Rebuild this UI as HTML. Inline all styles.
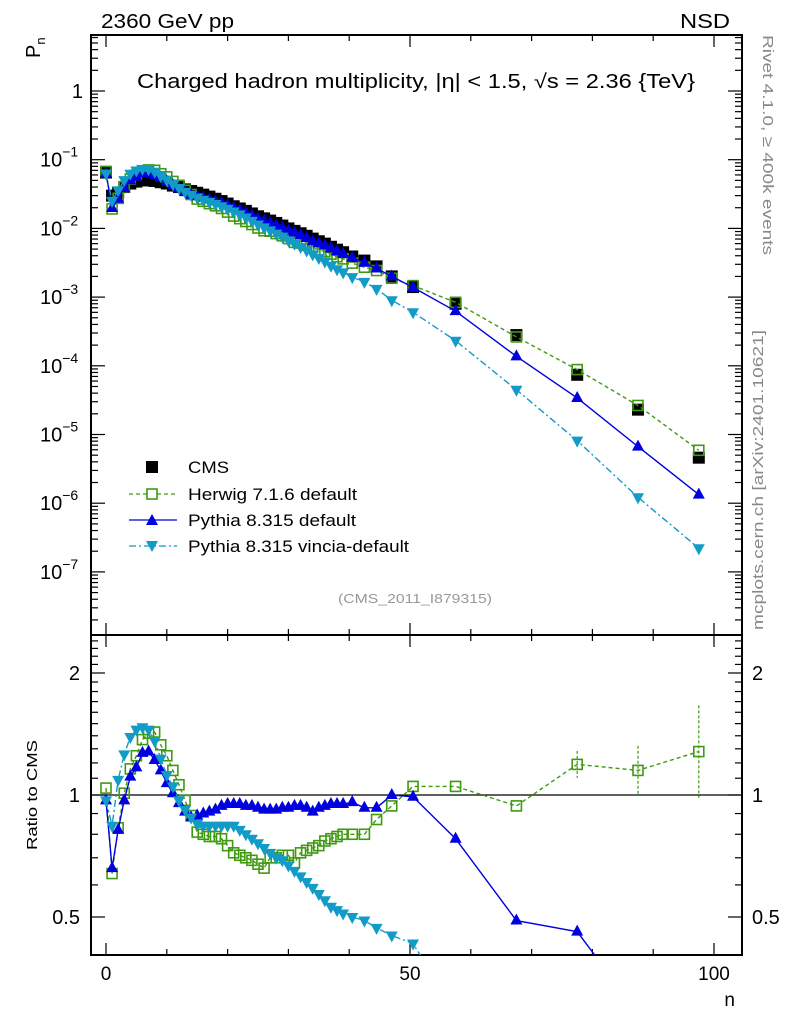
<!DOCTYPE html>
<html><head><meta charset="utf-8"><style>
html,body{margin:0;padding:0;background:#fff;overflow:hidden;width:786px;height:1024px;}
svg{display:block;font-family:"Liberation Sans",sans-serif;}
</style></head><body>
<svg id="chart" width="786" height="1024" viewBox="0 0 786 1024" xmlns="http://www.w3.org/2000/svg">
<rect x="0" y="0" width="786" height="1024" fill="#fff"/>
<text x="101" y="28" font-size="20" textLength="133" lengthAdjust="spacingAndGlyphs">2360 GeV pp</text>
<text x="680" y="28" font-size="20" textLength="50" lengthAdjust="spacingAndGlyphs">NSD</text>
<text x="137" y="88" font-size="20" textLength="558" lengthAdjust="spacingAndGlyphs">Charged hadron multiplicity, |η| &lt; 1.5, √s = 2.36 {TeV}</text>
<text transform="translate(40,58) rotate(-90)" font-size="20">P<tspan font-size="13" dy="5">n</tspan></text>
<text transform="translate(37,850) rotate(-90)" font-size="15" textLength="110" lengthAdjust="spacingAndGlyphs">Ratio to CMS</text>
<text x="735" y="1006" font-size="19" text-anchor="end">n</text>
<text transform="translate(763,35) rotate(90)" font-size="15" fill="#888" textLength="220" lengthAdjust="spacingAndGlyphs">Rivet 4.1.0, ≥ 400k events</text>
<text transform="translate(763,630) rotate(-90)" font-size="15" fill="#888" textLength="300" lengthAdjust="spacingAndGlyphs">mcplots.cern.ch [arXiv:2401.10621]</text>
<text x="338" y="603" font-size="13" fill="#999" textLength="154" lengthAdjust="spacingAndGlyphs">(CMS_2011_I879315)</text>
<g id="axes"></g>
<g id="marks"></g>
<g id="legend">
 <rect x="146" y="461" width="12" height="12" fill="#000"/>
 <text x="188" y="473" font-size="17" textLength="41" lengthAdjust="spacingAndGlyphs">CMS</text>
 <line x1="129" y1="494" x2="177" y2="494" stroke="#3f9a10" stroke-width="1.3" stroke-dasharray="4,3"/>
 <rect x="147" y="489" width="10" height="10" fill="#fff" stroke="#3f9a10" stroke-width="1.6"/>
 <text x="188" y="500" font-size="17" textLength="169" lengthAdjust="spacingAndGlyphs">Herwig 7.1.6 default</text>
 <line x1="129" y1="520" x2="177" y2="520" stroke="#0000e0" stroke-width="1.3"/>
 <polygon points="152,514 158,525 146,525" fill="#0000e0"/>
 <text x="188" y="526" font-size="17" textLength="168" lengthAdjust="spacingAndGlyphs">Pythia 8.315 default</text>
 <line x1="129" y1="546" x2="177" y2="546" stroke="#129bc6" stroke-width="1.3" stroke-dasharray="7,3,2,3"/>
 <polygon points="146,541 158,541 152,552" fill="#129bc6"/>
 <text x="188" y="552" font-size="17" textLength="221" lengthAdjust="spacingAndGlyphs">Pythia 8.315 vincia-default</text>
</g>
</svg>
<script>
const nValues = [0,1,2,3,4,5,6,7,8,9,10,11,12,13,14,15,16,17,18,19,20,21,22,23,24,25,26,27,28,29,30,31,32,33,34,35,36,37,38,39,40.5,42.5,44.5,47,50.5,57.5,67.5,77.5,87.5,97.5];
const cmsValues = [0.065,0.030,0.033,0.040,0.045,0.048,0.050,0.050,0.049,0.047,0.045,0.042,0.040,0.037,0.035,0.033,0.031,0.029,0.027,0.025,0.023,0.021,0.0195,0.018,0.0165,0.015,0.014,0.013,0.012,0.011,0.010,0.0092,0.0085,0.0078,0.0071,0.0065,0.006,0.0054,0.0049,0.0045,0.0039,0.0034,0.0028,0.002,0.0014,0.0008,0.00028,0.000074,0.000023,0.0000046];
const herwigRatio = [1.04,0.64,0.83,1.01,1.16,1.25,1.37,1.42,1.43,1.33,1.25,1.15,1.06,0.97,0.89,0.81,0.80,0.79,0.79,0.78,0.75,0.72,0.71,0.70,0.69,0.675,0.66,0.70,0.70,0.71,0.71,0.68,0.72,0.73,0.74,0.75,0.77,0.78,0.79,0.80,0.80,0.80,0.87,0.94,1.05,1.05,0.94,1.19,1.15,1.28];
const pythiaRatio = [0.97,0.66,0.82,0.97,1.11,1.17,1.27,1.28,1.22,1.15,1.07,1.01,0.955,0.91,0.88,0.89,0.90,0.91,0.92,0.94,0.95,0.95,0.95,0.94,0.94,0.93,0.92,0.92,0.92,0.93,0.93,0.94,0.94,0.93,0.91,0.93,0.94,0.95,0.95,0.95,0.96,0.93,0.93,1.0,0.99,0.78,0.49,0.46,0.29,0.29];
const vinciaRatio = [0.97,0.84,1.09,1.26,1.39,1.45,1.47,1.45,1.36,1.23,1.12,1.05,0.97,0.92,0.88,0.85,0.84,0.84,0.84,0.84,0.84,0.84,0.82,0.80,0.78,0.76,0.74,0.72,0.70,0.69,0.67,0.65,0.63,0.61,0.59,0.57,0.55,0.53,0.52,0.51,0.50,0.49,0.47,0.45,0.43,0.29,0.16,0.11,0.053,0.048];
const xTicks = [0,50,100];
const yTicks = [0,-1,-2,-3,-4,-5,-6,-7];
const yTickLabels = ["1","10","10","10","10","10","10","10"];
const yTickExp = ["","−1","−2","−3","−4","−5","−6","−7"];
const ratioTicks = [0.5,1,2];

const NS='http://www.w3.org/2000/svg';
const L=91,R=742,T=35,M=635,B=955;
const X=n=>106+n*6.08;
const Y=v=>91-Math.log10(v)*68.7;
const RY=r=>795-Math.log2(r)*122;
const axes=document.getElementById('axes'), marks=document.getElementById('marks');
function mk(tag,attrs,parent){const e=document.createElementNS(NS,tag);for(const k in attrs)e.setAttribute(k,attrs[k]);parent.appendChild(e);return e;}

let f1=mk('rect',{x:L,y:T,width:R-L,height:M-T,fill:'none',stroke:'#000','stroke-width':2},axes);


let f2=mk('rect',{x:L,y:M,width:R-L,height:B-M,fill:'none',stroke:'#000','stroke-width':2},axes);


let ref=mk('line',{x1:L,x2:R,y1:RY(1),y2:RY(1),stroke:'#000','stroke-width':1.3},axes);



for(let n=0;n<=100;n+=10){
  const big=xTicks.includes(n), len=big?12:6, x=X(n);
  [[T,1],[M,-1],[M,1],[B,-1]].forEach(([y0,d])=>{
    let t=mk('line',{x1:x,x2:x,y1:y0,y2:y0+d*len,stroke:'#000','stroke-width':1.2},axes);
    
    
  });
}
xTicks.forEach(v=>{
  let t=mk('text',{x:X(v),y:980,'font-size':19,'text-anchor':'middle'},axes);
  t.textContent=v;
  
  
});
for(let e=1;e>=-8;e--){
  for(let m=1;m<10;m++){
    const v=m*Math.pow(10,e), y=Y(v);
    if(y<T||y>M)continue;
    const len=m===1?14:7;
    [[L,1],[R,-1]].forEach(([x0,d])=>{
      let t=mk('line',{x1:x0,x2:x0+d*len,y1:y,y2:y,stroke:'#000','stroke-width':1.2},axes);
      
      
    });
  }
}
yTicks.forEach((e,i)=>{
  const y=Y(Math.pow(10,e));
  let t=mk('text',{x: e===0?83:40,y:y+7,'font-size':20,'text-anchor':e===0?'end':'start'},axes);
  t.textContent=yTickLabels[i];
  if(yTickExp[i]){let s=mk('tspan',{dy:-10,'font-size':14},t);s.textContent=yTickExp[i];}
  
  
});
for(let r=0.4;r<=2.45;r+=0.1){
  const rr=Math.round(r*10)/10, y=RY(rr);
  if(y<M||y>B)continue;
  const len=ratioTicks.includes(rr)?14:7;
  [[L,1],[R,-1]].forEach(([x0,d])=>{
    let t=mk('line',{x1:x0,x2:x0+d*len,y1:y,y2:y,stroke:'#000','stroke-width':1.2},axes);
    
    
  });
}
ratioTicks.forEach(r=>{
  [[80,'end'],[752,'start']].forEach(([x,a])=>{
    let t=mk('text',{x:x,y:RY(r)+7,'font-size':20,'text-anchor':a},axes);
    t.textContent=r;
    
    
  });
});

const defs=mk('defs',{},marks);
const c1=mk('clipPath',{id:'cm'},defs); mk('rect',{x:L,y:T,width:R-L,height:M-T},c1);
const c2=mk('clipPath',{id:'cr'},defs); mk('rect',{x:L,y:M,width:R-L,height:B-M},c2);
const gMain=mk('g',{'clip-path':'url(#cm)'},marks);
const gRatio=mk('g',{'clip-path':'url(#cr)'},marks);

function marker(g,type,x,y,col){
  let e;
  if(type==='sq') e=mk('rect',{x:x-6,y:y-6,width:12,height:12,fill:'#000'},g);
  else if(type==='osq') e=mk('rect',{x:x-5,y:y-5,width:10,height:10,fill:'none',stroke:col,'stroke-width':1.6},g);
  else if(type==='up') e=mk('polygon',{points:`${x},${y-7} ${x+6},${y+4} ${x-6},${y+4}`,fill:col},g);
  else e=mk('polygon',{points:`${x-6},${y-4} ${x+6},${y-4} ${x},${y+7}`,fill:col},g);
  return e;
}
const series=[
  {name:'herwig',ratio:herwigRatio,col:'#3f9a10',dash:'4,3',m:'osq'},
  {name:'pythia',ratio:pythiaRatio,col:'#0000e0',dash:'',m:'up'},
  {name:'vincia',ratio:vinciaRatio,col:'#129bc6',dash:'7,3,2,3',m:'down'}
];
cmsValues.forEach((v,i)=>{
  const e=marker(gMain,'sq',X(nValues[i]),Y(v));
  
  
});
series.forEach(s=>{
  const mainPts=s.ratio.map((r,i)=>[X(nValues[i]),Y(r*cmsValues[i])]);
  const ratPts=s.ratio.map((r,i)=>[X(nValues[i]),RY(r)]);
  [[gMain,mainPts,'main'],[gRatio,ratPts,'ratio']].forEach(([g,pts,kind])=>{
    const p=mk('polyline',{points:pts.map(q=>q.join(',')).join(' '),fill:'none',stroke:s.col,'stroke-width':1.4},g);
    if(s.dash)p.setAttribute('stroke-dasharray',s.dash);
    
    
    pts.forEach(q=>{
      const e=marker(g,s.m,q[0],q[1],s.col);
      
      
    });
  });
});
[[47,0.08],[48,0.15],[49,0.3]].forEach(([i,er])=>{
  const r=herwigRatio[i], x=X(nValues[i]);
  const e=mk('line',{x1:x,x2:x,y1:RY(r*(1+er)),y2:RY(r/(1+er)),stroke:'#3f9a10','stroke-width':1.2,'stroke-dasharray':'3,2'},gRatio);
  
  
});
</script>
</body></html>
